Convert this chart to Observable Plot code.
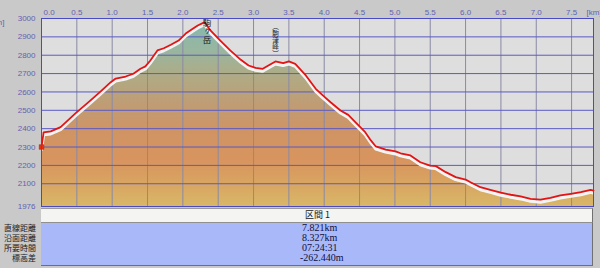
<!DOCTYPE html>
<html>
<head>
<meta charset="utf-8">
<script src="https://cdn.jsdelivr.net/npm/d3@7"></script>
<script src="https://cdn.jsdelivr.net/npm/@observablehq/plot@0.6"></script>
<style>
  html, body { margin: 0; padding: 0; background: #c9c9c9; }
  #wrap { position: relative; width: 600px; height: 268px; overflow: hidden; background: #c9c9c9; }
  #chart svg { display: block; }
  .lbl { position: absolute; font-family: "Noto Sans CJK JP", sans-serif; font-size: 8px; color: #202020; white-space: nowrap; line-height: 10px; }
  .val { position: absolute; font-family: "Liberation Serif", serif; font-size: 10px; color: #101040; white-space: nowrap; line-height: 10px; }
</style>
</head>
<body>
<div id="wrap">
  <div id="chart"></div>
</div>
<script>
// ---- data ----
const distKm = [0.00, 0.03, 0.13, 0.27, 0.48, 0.69, 0.83, 0.98, 1.05, 1.19, 1.30, 1.40, 1.47, 1.54, 1.64, 1.73, 1.83, 1.94, 2.04, 2.14, 2.21, 2.31, 2.39, 2.53, 2.67, 2.82, 2.93, 3.03, 3.13, 3.21, 3.31, 3.42, 3.50, 3.59, 3.74, 3.88, 3.98, 4.09, 4.23, 4.34, 4.44, 4.58, 4.66, 4.73, 4.87, 5.01, 5.08, 5.22, 5.36, 5.50, 5.58, 5.72, 5.86, 6.00, 6.07, 6.21, 6.35, 6.50, 6.64, 6.78, 6.92, 7.06, 7.20, 7.34, 7.49, 7.63, 7.77, 7.81];
const elevM  = [2300, 2380, 2385, 2408, 2483, 2553, 2600, 2653, 2673, 2684, 2699, 2726, 2739, 2771, 2826, 2838, 2857, 2880, 2918, 2944, 2962, 2980, 2935, 2880, 2826, 2775, 2744, 2731, 2726, 2744, 2766, 2757, 2766, 2753, 2690, 2617, 2581, 2544, 2499, 2475, 2435, 2381, 2336, 2303, 2286, 2276, 2266, 2254, 2217, 2199, 2196, 2163, 2136, 2123, 2108, 2081, 2067, 2051, 2040, 2031, 2018, 2013, 2023, 2036, 2045, 2054, 2067, 2063];
const xTicks = [0, 0.5, 1, 1.5, 2, 2.5, 3, 3.5, 4, 4.5, 5, 5.5, 6, 6.5, 7, 7.5];
const yTicks = [3000, 2900, 2800, 2700, 2600, 2500, 2400, 2300, 2200, 2100, 1976];
const peakNames = ["駒ヶ岳", "（駒津峰）"];
const peakDist = [2.34, 3.31];
const tableHeader = "区間 1";
const rowLabels = ["直線距離", "沿面距離", "所要時間", "標高差"];
const rowValues = ["7.821km", "8.327km", "07:24:31", "-262.440m"];

const profile = distKm.map((d, i) => ({d, e: elevM[i]}));
const peaks = peakNames.map((name, i) => ({name, d: peakDist[i]}));

const gradStops = [
  [3000, "#86b8ae"], [2850, "#98b6a0"], [2700, "#b0aa84"], [2550, "#c09c74"],
  [2400, "#d09464"], [2250, "#d8945e"], [2100, "#d8a862"], [1976, "#d8ba6a"]
];

const axisColor = "#6262b2";

const chart = Plot.plot({
  width: 600,
  height: 208,
  marginLeft: 41,
  marginRight: 7,
  marginTop: 18,
  marginBottom: 2,
  style: {background: "transparent", overflow: "visible"},
  x: {domain: [0, 7.81], label: null},
  y: {domain: [1976, 3000], label: null},
  marks: [
    (index, scales) => {
      const defs = d3.create("svg:defs");
      const g = defs.append("linearGradient")
        .attr("id", "elevGrad")
        .attr("gradientUnits", "userSpaceOnUse")
        .attr("x1", 0).attr("x2", 0)
        .attr("y1", scales.y(3000)).attr("y2", scales.y(1976));
      gradStops.forEach(([v, c]) => {
        g.append("stop")
          .attr("offset", (3000 - v) / (3000 - 1976))
          .attr("stop-color", c);
      });
      return defs.node();
    },
    Plot.frame({fill: "#dedede"}),
    Plot.areaY(profile, {x: "d", y1: 1976, y2: "e", fill: "url(#elevGrad)", dy: 4, clip: true}),
    Plot.gridX(xTicks, {stroke: "#8a8aa6", strokeOpacity: 1}),
    Plot.gridY(yTicks, {stroke: "#5a5ac6", strokeOpacity: 1}),
    Plot.line(profile, {x: "d", y: "e", stroke: "#f4f4f4", strokeWidth: 3, dy: 2.5, clip: true}),
    Plot.line(profile, {x: "d", y: "e", stroke: "#e41414", strokeWidth: 1.8}),
    Plot.dot([profile[0]], {x: "d", y: "e", symbol: "square", r: 2.6, fill: "#e83010", stroke: "#a02010", strokeWidth: 0.5}),
    Plot.frame({stroke: "#4a4ac4", strokeWidth: 1}),
    Plot.text([peaks[0]], {x: "d", text: "name", frameAnchor: "top", textAnchor: "start", lineAnchor: "bottom",
      dy: 0, fontSize: 8.5, fill: "#1a1a1a", fontFamily: "Noto Sans CJK JP"}),
    Plot.text([peaks[1]], {x: "d", text: "name", frameAnchor: "top", textAnchor: "start", lineAnchor: "bottom",
      dy: 5, fontSize: 6.6, fill: "#1a1a1a", fontFamily: "Noto Sans CJK JP"}),
    Plot.axisX(xTicks.filter(t => t > 0), {
      anchor: "top", tickSize: 0, tickPadding: 4, tickFormat: d => d.toFixed(1),
      fill: axisColor, fontSize: 8, fontFamily: "Liberation Sans", label: null
    }),
    Plot.axisX([0], {
      anchor: "top", tickSize: 0, tickPadding: 4, tickFormat: d => d.toFixed(1),
      textAnchor: "start", dx: 2,
      fill: axisColor, fontSize: 8, fontFamily: "Liberation Sans", label: null
    }),
    Plot.axisY(yTicks, {
      tickSize: 0, tickPadding: 6, tickFormat: d => String(d),
      fill: axisColor, fontSize: 8, fontFamily: "Liberation Sans", label: null
    }),
    Plot.text(["[km]"], {frameAnchor: "top-right", text: d => d, textAnchor: "start", dx: -7, dy: -9,
      fill: axisColor, fontSize: 8, fontFamily: "Liberation Sans"}),
    Plot.text(["[m]"], {frameAnchor: "top-left", text: d => d, textAnchor: "end", dx: -37, dy: 1,
      fill: axisColor, fontSize: 8, fontFamily: "Liberation Sans"})
  ]
});
// set vertical writing on the peak name labels
d3.select(chart).selectAll("text")
  .filter(function() { return peakNames.includes(this.textContent); })
  .attr("writing-mode", "vertical-rl")
  .style("writing-mode", "vertical-rl")
  .attr("dy", null)
  .style("text-orientation", "mixed");
document.getElementById("chart").appendChild(chart);

// ---- summary table below the chart ----
const wrap = document.getElementById("wrap");
function box(styles) {
  const el = document.createElement("div");
  el.style.position = "absolute";
  Object.assign(el.style, styles);
  wrap.appendChild(el);
  return el;
}
box({left: "41px", top: "208px", width: "551px", height: "13px", background: "#f4f4f2",
     borderTop: "1px solid #9a9a9a", borderRight: "1px solid #707070", borderBottom: "1px solid #909090"});
box({left: "41px", top: "223px", width: "551px", height: "42px", background: "#a8b8f8",
     borderRight: "1px solid #707070", borderBottom: "1px solid #707070"});
const hdr = document.createElement("div");
hdr.className = "lbl";
hdr.style.left = "305px"; hdr.style.top = "210px"; hdr.style.fontSize = "9px";
hdr.textContent = tableHeader;
wrap.appendChild(hdr);
const rowY = [223, 233, 243, 253];
rowLabels.forEach((t, i) => {
  const el = document.createElement("div");
  el.className = "lbl";
  el.style.right = (600 - 36) + "px";
  el.style.top = rowY[i] + "px";
  el.textContent = t;
  wrap.appendChild(el);
});
rowValues.forEach((t, i) => {
  const el = document.createElement("div");
  el.className = "val";
  el.style.left = (i === 3 ? 300 : 302) + "px";
  el.style.top = rowY[i] + "px";
  el.textContent = t;
  wrap.appendChild(el);
});
</script>
</body>
</html>
